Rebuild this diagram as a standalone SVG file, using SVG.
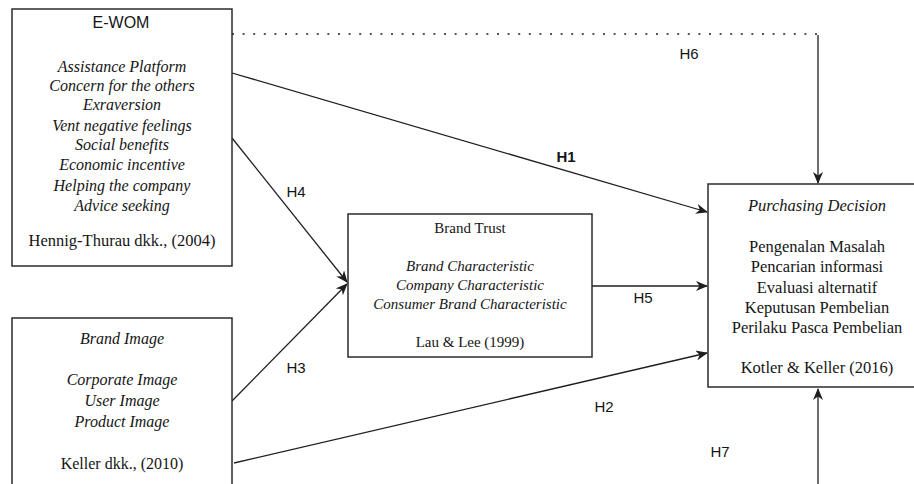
<svg xmlns="http://www.w3.org/2000/svg" width="914" height="484" viewBox="0 0 914 484">
<style>
.box{fill:#fff;stroke:#2b2b2b;stroke-width:1.5}
.ser{font-family:"Liberation Serif","Times New Roman",serif;fill:#151515;text-anchor:middle}
.it{font-style:italic}
.san{font-family:"Liberation Sans",Arial,sans-serif;fill:#151515;text-anchor:middle}
.lbl{font-family:"Liberation Sans",Arial,sans-serif;fill:#151515;font-size:15px;text-anchor:middle}
.c{fill:none;stroke:#1e1e1e;stroke-width:1.3}
</style>
<defs>
<marker id="ar" viewBox="0 0 12 10" refX="11" refY="5" markerWidth="12" markerHeight="10" markerUnits="userSpaceOnUse" orient="auto">
<path d="M0,0 L12,5 L0,10 L3.5,5 z" fill="#1e1e1e"/>
</marker>
</defs>
<rect width="914" height="484" fill="#fff"/>
<g id="connectors">
<path class="c" d="M232,34 L824,34" stroke-width="2" stroke-dasharray="2 8.6"/>
<path class="c" d="M818,35 L818,183" marker-end="url(#ar)"/>
<path class="c" d="M232,73 L707,212" marker-end="url(#ar)"/>
<path class="c" d="M232,138 L347,282" marker-end="url(#ar)"/>
<path class="c" d="M232,401 L347,284" marker-end="url(#ar)"/>
<path class="c" d="M592,286 L707,286" marker-end="url(#ar)"/>
<path class="c" d="M234,463 L707,353" marker-end="url(#ar)"/>
<path class="c" d="M818,484 L818,389" marker-end="url(#ar)"/>
<text class="lbl" x="689" y="59">H6</text>
<text class="lbl" x="566" y="162" font-weight="bold">H1</text>
<text class="lbl" x="296" y="197">H4</text>
<text class="lbl" x="296" y="373">H3</text>
<text class="lbl" x="643" y="303">H5</text>
<text class="lbl" x="604" y="412">H2</text>
<text class="lbl" x="720" y="457">H7</text>
</g>
<g id="ewom">
<rect class="box" x="12" y="9" width="220" height="257"/>
<text class="san" x="121" y="28" font-size="16">E-WOM</text>
<g class="ser it" font-size="16">
<text x="122" y="72">Assistance Platform</text>
<text x="122" y="91">Concern for the others</text>
<text x="122" y="110">Exraversion</text>
<text x="122" y="131">Vent negative feelings</text>
<text x="122" y="150">Social benefits</text>
<text x="122" y="170">Economic incentive</text>
<text x="122" y="191">Helping the company</text>
<text x="122" y="211">Advice seeking</text>
</g>
<text class="ser" x="122" y="246" font-size="16.5">Hennig-Thurau dkk., (2004)</text>
</g>
<g id="brand-image">
<rect class="box" x="12" y="318" width="220" height="180"/>
<g class="ser it" font-size="16">
<text x="122" y="344">Brand Image</text>
<text x="122" y="385">Corporate Image</text>
<text x="122" y="406">User Image</text>
<text x="122" y="427">Product Image</text>
</g>
<text class="ser" x="122" y="469" font-size="16">Keller dkk., (2010)</text>
</g>
<g id="brand-trust">
<rect class="box" x="348" y="214" width="244" height="143"/>
<text class="ser" x="470" y="233" font-size="15">Brand Trust</text>
<g class="ser it" font-size="15">
<text x="470" y="271">Brand Characteristic</text>
<text x="470" y="290">Company Characteristic</text>
<text x="470" y="309">Consumer Brand Characteristic</text>
</g>
<text class="ser" x="470" y="347" font-size="15">Lau &amp; Lee (1999)</text>
</g>
<g id="purchasing-decision">
<rect class="box" x="708" y="184" width="218" height="203"/>
<text class="ser it" x="817" y="211" font-size="16.5">Purchasing Decision</text>
<g class="ser" font-size="16.5">
<text x="817" y="252">Pengenalan Masalah</text>
<text x="817" y="272">Pencarian informasi</text>
<text x="817" y="293">Evaluasi alternatif</text>
<text x="817" y="313">Keputusan Pembelian</text>
<text x="817" y="333">Perilaku Pasca Pembelian</text>
<text x="817" y="373">Kotler &amp; Keller (2016)</text>
</g>
</g>
</svg>
